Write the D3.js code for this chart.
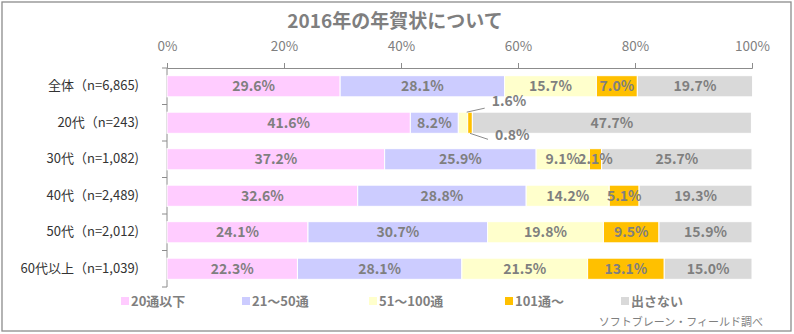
<!DOCTYPE html>
<html><head><meta charset="utf-8">
<script src="https://cdn.jsdelivr.net/npm/d3@7"></script>
<style>
html,body{margin:0;padding:0;background:#fff;}
svg{display:block;font-family:"Noto Sans CJK JP","Noto Sans",sans-serif;}
</style></head>
<body><svg id="c" width="794" height="334"></svg>
<script>
const title = "2016年の年賀状について";
const categories = ["全体（n=6,865)", "20代（n=243)", "30代（n=1,082)", "40代（n=2,489)", "50代（n=2,012)", "60代以上（n=1,039)"];
const seriesNames = ["20通以下", "21～50通", "51～100通", "101通～", "出さない"];
const s20 = [29.6, 41.6, 37.2, 32.6, 24.1, 22.3];
const s21_50 = [28.1, 8.2, 25.9, 28.8, 30.7, 28.1];
const s51_100 = [15.7, 1.6, 9.1, 14.2, 19.8, 21.5];
const s101 = [7.0, 0.8, 2.1, 5.1, 9.5, 13.1];
const sNone = [19.7, 47.7, 25.7, 19.3, 15.9, 15.0];
const tickValues = [0, 20, 40, 60, 80, 100];
const tickLabels = ["0%", "20%", "40%", "60%", "80%", "100%"];
const source = "ソフトブレーン・フィールド調べ";
// labels drawn outside the bar with leader lines: [row, series, direction]
const callouts = [[1, 2, "up"], [1, 3, "down"]];

const colors = ["#FFCCFF", "#CCCCFF", "#FFFFCC", "#FFC000", "#D9D9D9"];
const series = [s20, s21_50, s51_100, s101, sNone];
const textGray = "#7f7f7f";

const svg = d3.select("#c");
svg.append("rect").attr("x", 2).attr("y", 2).attr("width", 789).attr("height", 329)
  .attr("fill", "#fff").attr("stroke", "#8c8c8c").attr("stroke-width", 1.3);

const x = d3.scaleLinear().domain([0, 100]).range([167, 752]);
const y = d3.scaleBand().domain(categories).range([68, 287]).paddingInner(0.42).paddingOuter(0.21);

svg.append("text").attr("x", 395).attr("y", 28).attr("text-anchor", "middle")
  .attr("font-size", 19).attr("font-weight", "bold").attr("fill", textGray).text(title);

// top axis
const xAxis = d3.axisTop(x).tickValues(tickValues).tickFormat((d, i) => tickLabels[i]).tickSizeOuter(0).tickSize(5).tickPadding(12);
const gx = svg.append("g").attr("transform", "translate(0,68)").call(xAxis);
gx.select(".domain").attr("stroke", "#8c8c8c");
gx.selectAll(".tick line").attr("stroke", "#8c8c8c");
gx.selectAll(".tick text").attr("font-size", 13.5).attr("fill", textGray).attr("font-family", "Noto Sans CJK JP");

// left axis
const yAxis = d3.axisLeft(y).tickSize(0).tickPadding(28);
const gy = svg.append("g").attr("transform", "translate(167,0)").call(yAxis);
gy.select(".domain").remove();
svg.append("line").attr("x1", 167).attr("x2", 167).attr("y1", 68).attr("y2", 287).attr("stroke", "#8c8c8c");
const bounds = categories.map(c => y(c) - y.step() * y.paddingInner() / 2).concat([287]);
svg.selectAll("line.ct").data(bounds).join("line").attr("class", "ct")
  .attr("x1", 162).attr("x2", 167).attr("y1", d => d).attr("y2", d => d).attr("stroke", "#8c8c8c");
gy.selectAll(".tick text").attr("font-size", 13).attr("fill", "#333").attr("font-family", "Noto Sans CJK JP");

// stacked bars
const rows = categories.map((c, i) => {
  let acc = 0;
  return series.map((s, k) => { const o = {c, i, k, v: s[i], x0: acc, x1: acc + s[i]}; acc += s[i]; return o; });
});
const segs = rows.flat();
svg.append("g").selectAll("rect").data(segs).join("rect")
  .attr("x", d => x(d.x0)).attr("width", d => x(d.x1) - x(d.x0))
  .attr("y", d => y(d.c)).attr("height", y.bandwidth())
  .attr("fill", d => colors[d.k]).attr("stroke", "#fff").attr("stroke-width", 1);

const isCallout = d => callouts.some(c => c[0] === d.i && c[1] === d.k);
svg.append("g").selectAll("text").data(segs.filter(d => !isCallout(d))).join("text")
  .attr("x", d => (x(d.x0) + x(d.x1)) / 2).attr("y", d => y(d.c) + y.bandwidth() / 2 + 5)
  .attr("text-anchor", "middle").attr("font-size", 14).attr("font-weight", "bold")
  .attr("fill", textGray).text(d => d.v.toFixed(1) + "%");

callouts.forEach(([ri, si, dir]) => {
  const d = rows[ri][si];
  const up = dir === "up";
  const sx = up ? x(d.x1) - 1 : (x(d.x0) + x(d.x1)) / 2;
  const sy = up ? y(d.c) : y(d.c) + y.bandwidth();
  const ex = sx + 18, ey = up ? sy - 4 : sy + 6;
  svg.append("line").attr("x1", sx).attr("y1", sy).attr("x2", ex).attr("y2", ey)
    .attr("stroke", "#8c8c8c").attr("stroke-width", 1);
  svg.append("text").attr("x", ex + 7).attr("y", up ? ey - 2 : ey + 1)
    .attr("font-size", 14).attr("font-weight", "bold").attr("fill", textGray)
    .text(d.v.toFixed(1) + "%");
});

// legend
const legendX = [121, 242, 369, 505, 621];
const lg = svg.append("g").selectAll("g").data(seriesNames).join("g")
  .attr("transform", (d, i) => `translate(${legendX[i]},301)`);
lg.append("rect").attr("x", 0).attr("y", -4).attr("width", 8).attr("height", 8).attr("fill", (d, i) => colors[i]);
lg.append("text").attr("x", 10).attr("y", 5).attr("font-size", 13).attr("font-weight", "bold")
  .attr("fill", textGray).text(d => d);

svg.append("text").attr("x", 763).attr("y", 326).attr("text-anchor", "end")
  .attr("font-size", 11).attr("fill", textGray).text(source);
</script></body></html>
